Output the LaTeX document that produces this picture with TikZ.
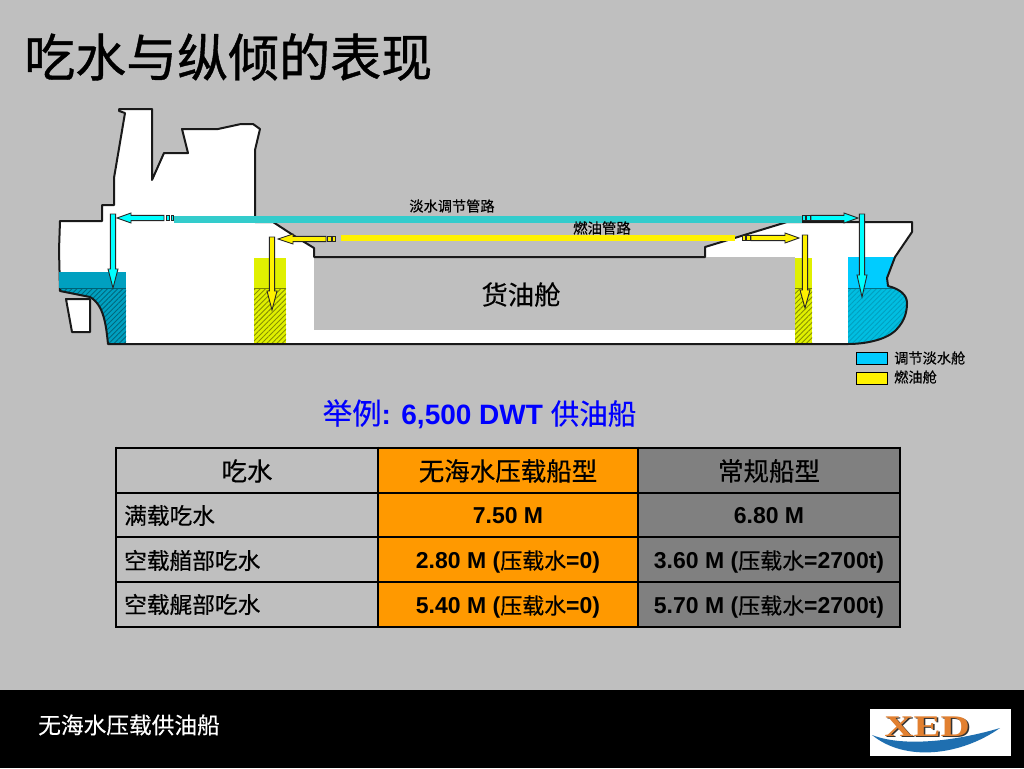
\documentclass[tikz,border=0pt]{standalone}
\usepackage{fontspec}
\setmainfont{Liberation Sans}
\newfontfamily\cjk[FakeBold=0.35]{Noto Sans CJK SC}
\newfontfamily\cjkheavy[FakeBold=0.8]{Noto Sans CJK SC}
\usetikzlibrary{patterns.meta}

\definecolor{slidegray}{RGB}{191,191,191}
\definecolor{pipecyan}{RGB}{51,204,204}
\definecolor{arrowcyan}{RGB}{0,255,255}
\definecolor{aftcyan}{RGB}{0,160,192}
\definecolor{forecyan}{RGB}{0,204,255}
\definecolor{forehatch}{RGB}{0,190,225}
\definecolor{tankyellow}{RGB}{224,240,0}
\definecolor{cellorange}{RGB}{255,153,0}
\definecolor{cellgray}{RGB}{128,128,128}
\definecolor{logoblue}{RGB}{31,111,176}
\definecolor{logoorange}{RGB}{226,128,48}

\tikzset{
  hullline/.style={draw=black!90,line width=2pt,line join=round},
  cjklabel/.style={font=\cjk\fontsize{#1}{#1}\selectfont,inner sep=0pt,text=black},
  cell/.style={font=\bfseries\fontsize{23}{23}\selectfont,inner sep=0pt},
  legendbox/.style={draw=black,line width=1pt},
  hatching/.style={pattern={Lines[angle=45,distance=3.6pt,line width=0.9pt]},pattern color=#1}
}

% block arrow: start, direction, length, head start, colour
\newcommand{\blockarrow}[5]{
  \draw[black!85,line width=0.9pt,fill=#5,shift={#1},rotate=#2]
    (0,-2.6) -- (#4,-2.6) -- (#4,-5) -- (#3,0) -- (#4,5) -- (#4,2.6) -- (0,2.6) -- cycle;
}
\newcommand{\hullpath}{
  (119,109) -- (152,109) -- (152,180) -- (164,153) -- (188,153) -- (182,129) -- (218,129)
  -- (241,124) -- (253,124) -- (260,129) -- (255,150) -- (255,222) -- (273,222) -- (296,237)
  -- (314,248) -- (314,257) -- (705,257) -- (705,247) -- (787,222) -- (912,222) -- (912,232)
  -- (895,257) -- (887,278) -- (888,286) .. controls (900,289) and (907,295) .. (907,303)
  .. controls (907,316) and (902,324) .. (895,331) .. controls (885,340) and (865,344) .. (848,344)
  -- (108,344) .. controls (106,325) and (104,305) .. (90,297) -- (60,291) -- (59,250)
  -- (60,221) -- (102,221) -- (102,205) -- (114,205) -- (114,178) -- (125,113) -- (119,111) -- cycle
}

\begin{document}
\begin{tikzpicture}[x=1pt,y=-1pt]

\fill[slidegray] (0,0) rectangle (1024,768);
\useasboundingbox (0,0) rectangle (1024,768);

\node[anchor=west,inner sep=0pt,text=black,font=\cjkheavy\fontsize{51}{51}\selectfont] (title) at (24,57) {吃水与纵倾的表现};

% ship
\fill[white] \hullpath;
\begin{scope}
\clip \hullpath;
\fill[forecyan] (848,257) rectangle (915,288);
\fill[forehatch] (848,288) rectangle (915,346);
\fill[hatching=aftcyan] (848,288) rectangle (915,346);
\fill[aftcyan] (55,288) rectangle (126,346);
\fill[hatching=aftcyan!65!black] (55,288) rectangle (126,346);
\end{scope}
\fill[slidegray] (314,257) rectangle (795,330);
\foreach \tankx/\tankw in {254/32,795/17} {
  \fill[tankyellow] (\tankx,258) rectangle +(\tankw,86);
  \fill[hatching=tankyellow!60!black] (\tankx,288) rectangle +(\tankw,56);
  \draw[tankyellow!55!black] (\tankx,288) -- +(\tankw,0);
}
\draw[aftcyan!70!black] (848,288) -- (895,288);
\draw[hullline] \hullpath;
\fill[aftcyan] (59,272) rectangle (126,288);
\draw[aftcyan!60!black] (60,288) -- (126,288);
\draw[hullline,fill=white] (66,299) -- (90,299) -- (90,332) -- (72,332) -- cycle;

% pipes
\fill[pipecyan] (174,216) rectangle (802,222.5);
\fill[yellow] (341,235) rectangle (735,241);

% arrows
\blockarrow{(113,214)}{-90}{74}{55}{arrowcyan}
\blockarrow{(164,218)}{180}{47}{33}{arrowcyan}
\blockarrow{(272,237)}{-90}{73}{54}{yellow}
\blockarrow{(326,239)}{180}{48}{33}{yellow}
\blockarrow{(811,218)}{0}{47}{33}{arrowcyan}
\blockarrow{(862,214)}{-90}{83}{61}{arrowcyan}
\blockarrow{(751,238)}{0}{48}{34}{yellow}
\blockarrow{(805,235)}{-90}{73}{55}{yellow}

% pipe couplings
\foreach \cx/\cy/\cw/\cc in {166/218/3/arrowcyan,171/218/2/arrowcyan,802/218/3/arrowcyan,806/218/4/arrowcyan,
  327/239/4/yellow,332/239/3/yellow,742/238/3/yellow,746/238/4/yellow} {
  \draw[black!85,line width=0.7pt,fill=\cc] (\cx,\cy-2.4) rectangle +(\cw,4.8);
}

% labels on the ship
\node[cjklabel=14.2] (waterpipe) at (452,206) {淡水调节管路};
\node[cjklabel=14.4] (fuelpipe) at (602,228) {燃油管路};
\node[cjklabel=26.3] (cargotank) at (521,294.5) {货油舱};

% legend
\draw[legendbox,fill=forecyan] (856,352) rectangle (887,364);
\draw[legendbox,fill=yellow] (856,372) rectangle (887,384);
\node[cjklabel=14.2,anchor=west] (legendwater) at (894,358) {调节淡水舱};
\node[cjklabel=14.2,anchor=west] (legendfuel) at (894,377) {燃油舱};

% example line
\node[inner sep=0pt,text=blue,font=\bfseries\fontsize{28}{28}\selectfont] (example) at (479.5,414)
  {{\cjk\mdseries\fontsize{29.5}{29.5}\selectfont 举例}: 6,500 DWT {\cjk\mdseries\fontsize{28.5}{28.5}\selectfont 供油船}};

% table
\fill[cellorange] (378,448) rectangle (638,627);
\fill[cellgray] (638,448) rectangle (900,627);
\foreach \rowy in {448,493,537,582,627} {
  \draw[black,line width=2.7pt] (116,\rowy) -- (900,\rowy);
}
\foreach \colx in {116,378,638,900} {
  \draw[black,line width=2.7pt] (\colx,446.7) -- (\colx,628.3);
}

\node[cjklabel=25.5] (headA) at (247,471) {吃水};
\node[cjklabel=25.5] (headB) at (508,471) {无海水压载船型};
\node[cjklabel=25.5] (headC) at (769,471) {常规船型};
\node[cjklabel=22.7,anchor=west] (rowA) at (124,515.5) {满载吃水};
\node[cjklabel=22.7,anchor=west] (rowB) at (124,560.5) {空载艏部吃水};
\node[cjklabel=22.7,anchor=west] (rowC) at (124,604.5) {空载艉部吃水};
\node[cell] (fullB) at (508,516) {7.50 M};
\node[cell] (fullC) at (769,516) {6.80 M};
\node[cell] (foreB) at (508,562) {2.80 M ({\cjk\mdseries\fontsize{22}{22}\selectfont 压载水}=0)};
\node[cell] (foreC) at (769,562) {3.60 M ({\cjk\mdseries\fontsize{22}{22}\selectfont 压载水}=2700t)};
\node[cell] (aftB) at (508,607) {5.40 M ({\cjk\mdseries\fontsize{22}{22}\selectfont 压载水}=0)};
\node[cell] (aftC) at (769,607) {5.70 M ({\cjk\mdseries\fontsize{22}{22}\selectfont 压载水}=2700t)};

% footer
\fill[black] (0,690) rectangle (1024,768);
\node[cjklabel=22.7,anchor=west,text=white] (footer) at (38,725) {无海水压载供油船};

% logo
\fill[white] (870,709) rectangle (1011,756);
\fill[logoblue] (872,735) .. controls (905,762) and (960,756) .. (1000,728)
  .. controls (960,740) and (905,748) .. (872,735) -- cycle;
\node[inner sep=0pt,xscale=1.35,text=black!80,font=\bfseries\fontsize{30}{30}\selectfont\fontspec{Liberation Serif}] (logoshadow) at (928.5,728) {XED};
\node[inner sep=0pt,xscale=1.35,text=logoorange,font=\bfseries\fontsize{30}{30}\selectfont\fontspec{Liberation Serif}] (logotext) at (927,726.5) {XED};

\end{tikzpicture}
\end{document}
